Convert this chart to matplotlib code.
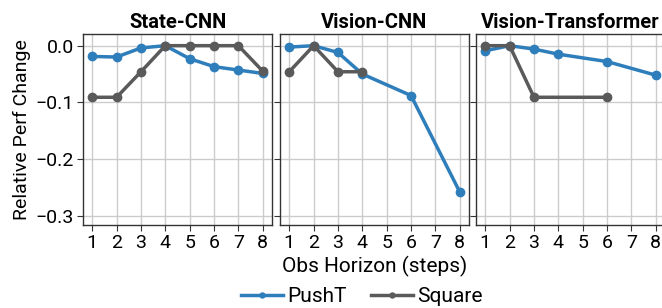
import matplotlib
matplotlib.use('Agg')
import matplotlib.pyplot as plt

plt.rcParams['font.family'] = ['Roboto', 'DejaVu Sans']

# 数据
titles = ['State-CNN', 'Vision-CNN', 'Vision-Transformer']

state_pusht_x = [1, 2, 3, 4, 5, 6, 7, 8]
state_pusht_y = [-0.019, -0.020, -0.004, 0.0, -0.023, -0.037, -0.043, -0.049]
state_square_x = [1, 2, 3, 4, 5, 6, 7, 8]
state_square_y = [-0.091, -0.091, -0.046, 0.0, 0.0, 0.0, 0.0, -0.045]

vcnn_pusht_x = [1, 2, 3, 4, 6, 8]
vcnn_pusht_y = [-0.0025, 0.0, -0.012, -0.050, -0.088, -0.258]
vcnn_square_x = [1, 2, 3, 4]
vcnn_square_y = [-0.046, 0.0, -0.046, -0.046]

vit_pusht_x = [1, 2, 3, 4, 6, 8]
vit_pusht_y = [-0.009, 0.0, -0.006, -0.015, -0.028, -0.052]
vit_square_x = [1, 2, 3, 6]
vit_square_y = [0.0, 0.0, -0.091, -0.091]

pusht = [(state_pusht_x, state_pusht_y), (vcnn_pusht_x, vcnn_pusht_y), (vit_pusht_x, vit_pusht_y)]
square = [(state_square_x, state_square_y), (vcnn_square_x, vcnn_square_y), (vit_square_x, vit_square_y)]

blue = '#2f7ebc'
gray = '#5a5a5a'

fig = plt.figure(figsize=(6.62, 3.08), dpi=100)
lefts = [83 / 662, 280 / 662, 476 / 662]
width = 189 / 662
bottom = 1 - 225 / 308
height = (225 - 34) / 308

axes = []
for i, left in enumerate(lefts):
    ax = fig.add_axes([left, bottom, width, height])
    axes.append(ax)
    ax.grid(True, color='#cccccc', linewidth=1.0)
    ax.set_axisbelow(True)
    ax.plot(*pusht[i], color=blue, linewidth=2.5, marker='o', markersize=6, label='PushT')
    ax.plot(*square[i], color=gray, linewidth=2.5, marker='o', markersize=6, label='Square')
    ax.set_xlim(0.62, 8.38)
    ax.set_ylim(-0.3163, 0.0206)
    ax.set_xticks(range(1, 9))
    ax.set_yticks([-0.3, -0.2, -0.1, 0.0])
    ax.tick_params(labelsize=14, length=4, color='#333333', pad=2.5)
    for s in ax.spines.values():
        s.set_color('#333333')
        s.set_linewidth(1.0)
    ax.set_title(titles[i], fontsize=14.5, fontweight='bold', pad=4)
    if i > 0:
        ax.tick_params(labelleft=False)

axes[0].set_ylabel('Relative Perf Change', fontsize=14, labelpad=3)
axes[1].set_xlabel('Obs Horizon (steps)', fontsize=15, labelpad=3)

handles, labels = axes[0].get_legend_handles_labels()
fig.legend(handles, labels, loc='lower center', bbox_to_anchor=(362 / 662, -0.055),
           ncol=2, frameon=False, fontsize=15, handlelength=2.0, handletextpad=0.2,
           columnspacing=1.2, markerscale=0.6)

fig.savefig('out.png', dpi=100)
